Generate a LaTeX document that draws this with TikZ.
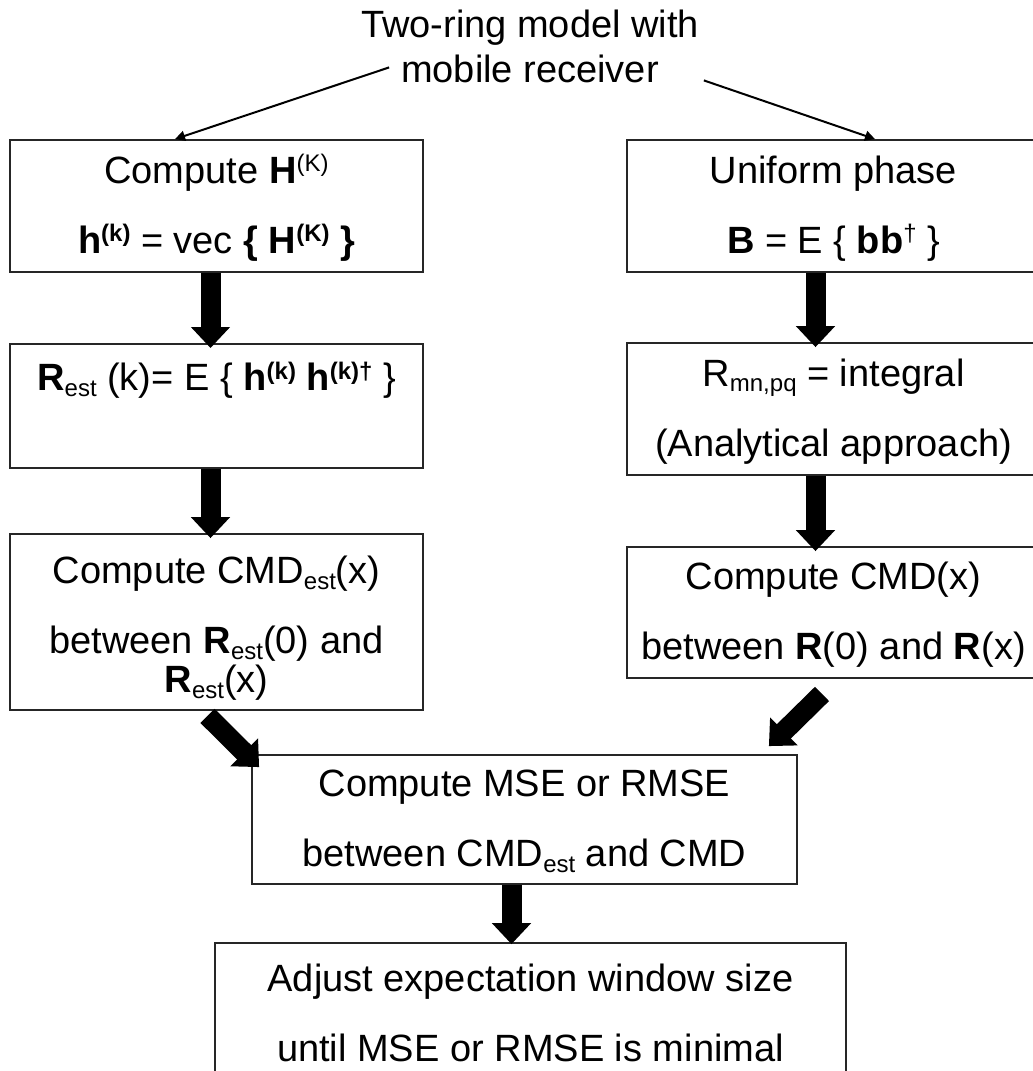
\documentclass[tikz,border=0pt]{standalone}
\usepackage{fontspec}
\setmainfont{Liberation Sans}
\usepackage{tikz}
\usetikzlibrary{arrows.meta}

\newcommand{\uptxt}[1]{\raisebox{0.3em}{\fontsize{12}{12}\selectfont #1}}
\newcommand{\lowtxt}[1]{\raisebox{-0.15em}{\fontsize{12}{12}\selectfont #1}}
% struts that fix the first and the last line of a box
\newcommand{\toprule}[1][20pt]{\rule{0pt}{#1}}
\newcommand{\botrule}[1][8pt]{\rule[-#1]{0pt}{#1}}

\begin{document}
\begin{tikzpicture}[
  x=0.5pt, y=-0.5pt,
  every node/.style={font=\fontsize{19}{35}\selectfont},
  box/.style={draw=black!85, line width=0.9pt, minimum width=206.5pt},
  lines/.style={box, align=center, inner ysep=0pt},
  bigarrow/.style={line width=10pt, -{Triangle[length=10.5pt, width=19pt]}},
  thinarrow/.style={line width=1pt, -{Triangle[length=5pt, width=5pt]}}
]
% page
\fill[white] (0,0) rectangle (1033,1071);
\useasboundingbox (0,0) rectangle (1033,1071);

% title
\node[anchor=base] (ttop) at (530,37) {Two-ring model with};
\node[anchor=base] (tmob) at (530,82) {mobile receiver};

% left column (estimate)
\node[lines, minimum height=66pt] (hcomp) at (216.5,206)
  {\toprule Compute \textbf{H}\uptxt{(K)}\\ \textbf{h\uptxt{(k)}} = vec \textbf{\{ H\uptxt{(K)} \}}\botrule};
\node[box, anchor=north, inner ysep=0pt, text height=23.5pt, text depth=38.5pt] (rest) at (216.5,343)
  {\textbf{R}\lowtxt{est} (k)= E \{ \textbf{h\uptxt{(k)} h\uptxt{(k)\textdagger}} \}};
\node[lines, minimum height=88pt] (cmdest) at (216.5,622)
  {\toprule[24pt]Compute CMD\lowtxt{est}(x)\\ between \textbf{R}\lowtxt{est}(0) and\\[-15.5pt] \textbf{R}\lowtxt{est}(x)\botrule};

% right column (analytical)
\node[lines, minimum height=66pt] (unif) at (833.5,206)
  {\toprule Uniform phase\\ \textbf{B} = E \{ \textbf{bb}\uptxt{\textdagger} \}\botrule};
\node[lines, minimum height=66pt] (rmn) at (833.5,409)
  {\toprule R\lowtxt{mn,pq} = integral\\ (Analytical approach)\botrule};
\node[lines, minimum height=65.5pt] (cmd) at (833.5,612.5)
  {\toprule Compute CMD(x)\\ between \textbf{R}(0) and \textbf{R}(x)\botrule};

% comparison
\node[lines, minimum width=272.5pt, minimum height=64.5pt] (mse) at (524.5,819.5)
  {\toprule Compute MSE or RMSE\\ between CMD\lowtxt{est} and CMD\botrule};
\node[lines, minimum width=315.5pt, minimum height=71pt] (adjust) at (530.5,1014)
  {\toprule Adjust expectation window size\\ until MSE or RMSE is minimal\botrule};

% thin arrows from the model
\draw[thinarrow] ([shift={(-5,-1)}]tmob.west) -- ([shift={(-41.5,0)}]hcomp.north);
\draw[thinarrow] ([shift={(38,12)}]tmob.east) -- ([shift={(41.5,0)}]unif.north);

% block arrows
\draw[bigarrow] ([shift={(-6,0)}]hcomp.south) -- ([shift={(-6,5)}]rest.north);
\draw[bigarrow] ([shift={(-6,0)}]rest.south) -- ([shift={(-6,5)}]cmdest.north);
\draw[bigarrow] ([shift={(-18,0)}]unif.south) -- ([shift={(-18,5)}]rmn.north);
\draw[bigarrow] ([shift={(-18,0)}]rmn.south) -- ([shift={(-18,5)}]cmd.north);
\draw[bigarrow] ([shift={(-9,5)}]cmdest.south) -- ([shift={(8,13)}]mse.north west);
\draw[bigarrow] ([shift={(-11.5,15)}]cmd.south) -- ([shift={(-29,-8)}]mse.north east);
\draw[bigarrow] ([shift={(-13,0)}]mse.south) -- ([shift={(-19,2)}]adjust.north);

\end{tikzpicture}
\end{document}
